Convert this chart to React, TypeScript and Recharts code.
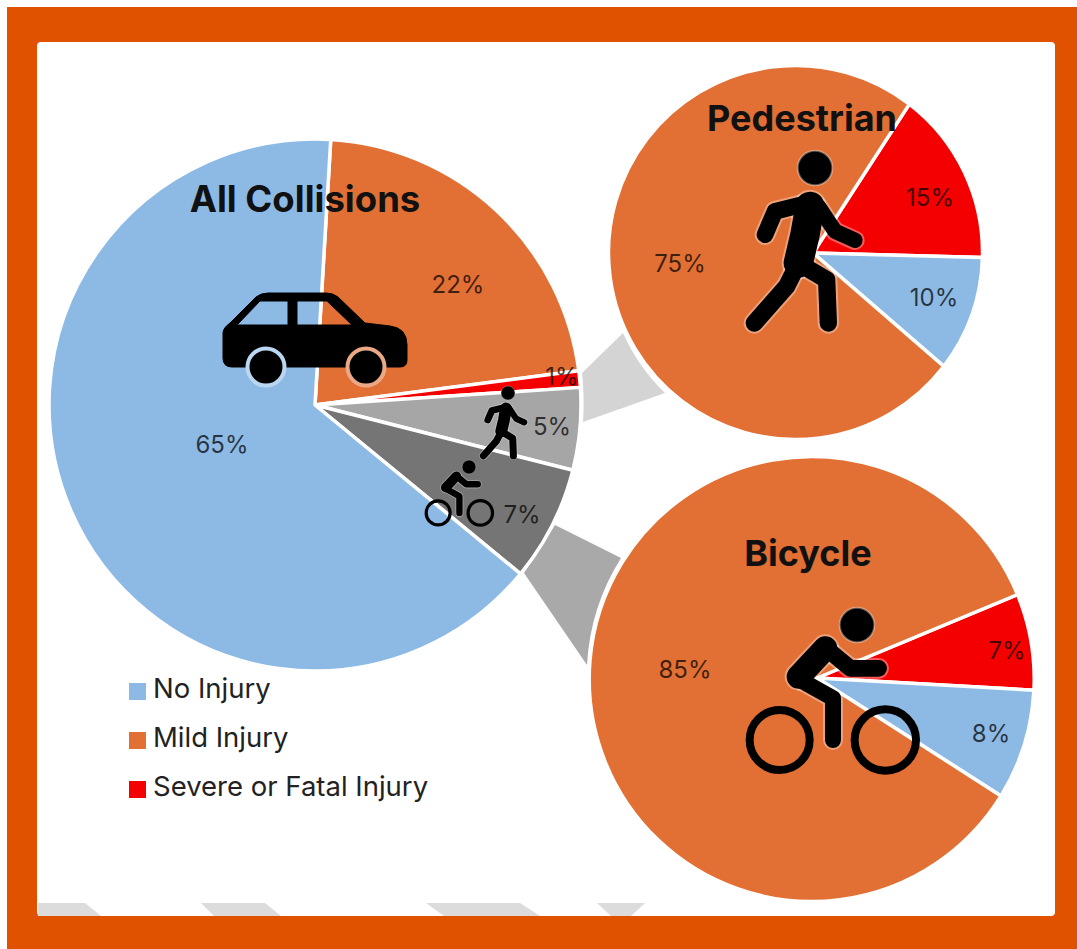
import { PieChart, Pie } from "recharts";

const allNames = ["Mild Injury", "Severe or Fatal Injury", "Pedestrian", "Bicycle", "No Injury"];
const allValues = [22, 1, 5, 7, 65];
const allColors = ["#E26F33", "#F40000", "#A6A6A6", "#757575", "#8DBAE5"];

const pedNames = ["Severe or Fatal Injury", "No Injury", "Mild Injury"];
const pedValues = [15, 10, 75];
const bikeNames = ["Severe or Fatal Injury", "No Injury", "Mild Injury"];
const bikeValues = [7, 8, 85];
const subColors = ["#F40000", "#8DBAE5", "#E26F33"];

const legendNames = ["No Injury", "Mild Injury", "Severe or Fatal Injury"];
const legendColors = ["#8DBAE5", "#E26F33", "#F40000"];

const allSpots = [[458, 284], [562, 376], [552, 426], [522, 514], [222, 444]];
const pedSpots = [[930, 197], [934, 297], [680, 263]];
const bikeSpots = [[1007, 650], [991, 733], [685, 669]];

const FONT = "Inter, Roboto, sans-serif";
const INK = "#111";

const toRows = (names: string[], values: number[], colors: string[]) =>
  names.map((name, i) => ({ name, value: values[i], fill: colors[i] }));

// wedge whose point can sit a little off the circle centre, as in the source
const wedge = (apexX: number, apexY: number) => (p: any) => {
  const rad = Math.PI / 180;
  const x1 = p.cx + p.outerRadius * Math.cos(-p.startAngle * rad);
  const y1 = p.cy + p.outerRadius * Math.sin(-p.startAngle * rad);
  const x2 = p.cx + p.outerRadius * Math.cos(-p.endAngle * rad);
  const y2 = p.cy + p.outerRadius * Math.sin(-p.endAngle * rad);
  const big = Math.abs(p.startAngle - p.endAngle) > 180 ? 1 : 0;
  const d = `M${p.cx + apexX},${p.cy + apexY}L${x1},${y1}A${p.outerRadius},${p.outerRadius} 0 ${big} 1 ${x2},${y2}Z`;
  return <path d={d} fill={p.fill} stroke="#fff" strokeWidth={3.5} strokeLinejoin="round" />;
};

const percentLabel = (spots: number[][]) => (p: any) => (
  <text
    x={spots[p.index][0]}
    y={spots[p.index][1]}
    textAnchor="middle"
    dominantBaseline="central"
    fontFamily={FONT}
    fontSize={24}
    fill="#000"
    fillOpacity={0.72}
  >
    {p.value}%
  </text>
);

function Strokes({ lines }: { lines: [string, number][] }) {
  return (
    <>
      {lines.map(([d, w], i) => (
        <path key={"h" + i} d={d} fill="none" stroke="#fff" strokeOpacity={0.35} strokeWidth={w + 12} strokeLinecap="round" strokeLinejoin="round" />
      ))}
      {lines.map(([d, w], i) => (
        <path key={i} d={d} fill="none" stroke="#000" strokeWidth={w} strokeLinecap="round" strokeLinejoin="round" />
      ))}
    </>
  );
}

// both figures are drawn relative to the head centre
function Walker({ x, y, scale }: { x: number; y: number; scale: number }) {
  const lines: [string, number][] = [
    ["M-20,105L-120,130L-150,200", 50],
    ["M10,115L60,190L120,217", 46],
    ["M-15,115L-30,200L-50,285", 88],
    ["M-50,285L-85,355L-182,465", 52],
    ["M-50,285L35,335L40,465", 52],
  ];
  return (
    <g transform={`translate(${x},${y}) scale(${scale})`}>
      <circle r={52} fill="#000" stroke="#fff" strokeOpacity={0.35} strokeWidth={6} />
      <Strokes lines={lines} />
    </g>
  );
}

function Cyclist({ x, y, scale, wheelFill }: { x: number; y: number; scale: number; wheelFill?: string }) {
  const lines: [string, number][] = [
    ["M-175,155L-95,70", 72],
    ["M-95,68L-20,130L65,130", 50],
    ["M-170,165L-72,220L-72,345", 48],
  ];
  return (
    <g transform={`translate(${x},${y}) scale(${scale})`}>
      <circle r={52} fill="#000" stroke="#fff" strokeOpacity={0.35} strokeWidth={6} />
      <Strokes lines={lines} />
      <circle cx={-232} cy={345} r={90} fill={wheelFill ?? "none"} stroke="#000" strokeWidth={24} />
      <circle cx={85} cy={345} r={92} fill={wheelFill ?? "none"} stroke="#000" strokeWidth={24} />
    </g>
  );
}

function Car() {
  return (
    <g>
      <path
        fillRule="evenodd"
        fill="#000"
        stroke="#000"
        strokeLinejoin="round"
        d="M230,323L256,297Q261,293 268,293L326,293Q333,293 338,297L365,323L390,326Q407,328 407,345L407,360Q407,367 400,367L232,367Q223,367 223,358L223,333Q223,328 230,323Z
           M237,325L260,301L288,301L288,325Z M297,301L327,301L352,325L297,325Z"
      />
      <circle cx={266} cy={367} r={18.5} fill="#000" stroke="#BBD6F0" strokeWidth={4} />
      <circle cx={366} cy={367} r={18.5} fill="#000" stroke="#EBA886" strokeWidth={4} />
    </g>
  );
}

const title = { fontFamily: FONT, fontWeight: 700, fill: INK, textAnchor: "middle" } as const;

export default function App() {
  return (
    <div style={{ position: "absolute", left: 0, top: 0, width: 1077, height: 949, background: "#fff", overflow: "hidden" }}>
      <div style={{ position: "absolute", left: 7, top: 7, width: 1070, height: 942, background: "#E05200" }} />
      <div style={{ position: "absolute", left: 37, top: 42, width: 1018, height: 874, background: "#fff", borderRadius: 4 }} />

      <svg width={1077} height={949} style={{ position: "absolute", left: 0, top: 0 }}>
        <g fill="#DCDCDC">
          <path d="M38,903L85,903L101,916L38,916Z" />
          <path d="M201,903L265,903L281,916L214,916Z" />
          <path d="M426,903L520,903L540,916L444,916Z" />
          <path d="M597,903L645,903L631,916L611,916Z" />
        </g>
        <path d="M582,373L623,333A190,190 0 0 0 665,393L583,422A269,269 0 0 0 582,373Z" fill="#D4D4D4" />
        <path d="M524,573L555,525L621,558A224,224 0 0 0 587,665Z" fill="#A9A9A9" />
      </svg>

      <div style={{ position: "absolute", left: 0, top: 0 }}>
        <PieChart width={1077} height={949} margin={{ top: 0, right: 0, bottom: 0, left: 0 }}>
          <Pie
            data={toRows(allNames, allValues, allColors)}
            dataKey="value"
            cx={315}
            cy={405}
            outerRadius={266}
            startAngle={86.6}
            endAngle={-273.4}
            shape={wedge(0, 0)}
            label={percentLabel(allSpots)}
            labelLine={false}
            isAnimationActive={false}
          />
          <Pie
            data={toRows(pedNames, pedValues, subColors)}
            dataKey="value"
            cx={795.5}
            cy={252.5}
            outerRadius={187}
            startAngle={52.5}
            endAngle={-307.5}
            shape={wedge(17.5, 0.5)}
            label={percentLabel(pedSpots)}
            labelLine={false}
            isAnimationActive={false}
          />
          <Pie
            data={toRows(bikeNames, bikeValues, subColors)}
            dataKey="value"
            cx={811.7}
            cy={679}
            outerRadius={222.5}
            startAngle={22.3}
            endAngle={-337.7}
            shape={wedge(5.3, -1)}
            label={percentLabel(bikeSpots)}
            labelLine={false}
            isAnimationActive={false}
          />
        </PieChart>
      </div>

      <svg width={1077} height={949} style={{ position: "absolute", left: 0, top: 0 }}>
        <Car />
        <Walker x={815} y={168} scale={1 / 3} />
        <Walker x={508} y={393} scale={0.135} />
        <Cyclist x={857} y={625} scale={1 / 3} />
        <Cyclist x={469} y={467} scale={0.133} />

        <text x={305} y={212} fontSize={36.5} {...title}>All Collisions</text>
        <text x={802} y={131} fontSize={36} {...title}>Pedestrian</text>
        <text x={808} y={566} fontSize={36} {...title}>Bicycle</text>

        {legendNames.map((name, i) => (
          <g key={name}>
            <rect x={129} y={683 + i * 49} width={17} height={17} fill={legendColors[i]} />
            <text x={153} y={698 + i * 49} fontFamily={FONT} fontSize={27.5} fill="#222">{name}</text>
          </g>
        ))}
      </svg>
    </div>
  );
}
